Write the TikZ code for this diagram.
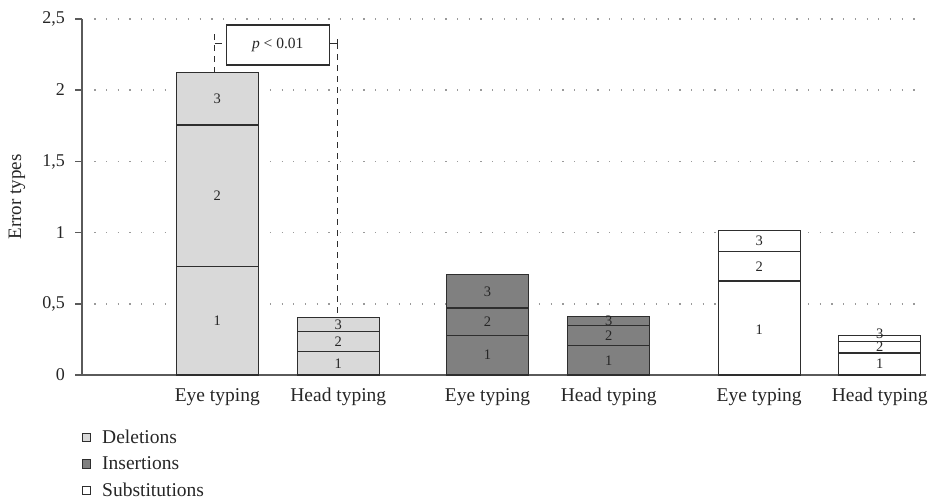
\documentclass[tikz,border=0pt]{standalone}
\usepackage{fontspec}
\setmainfont{Liberation Serif}
\usepackage{tikz}
\definecolor{delc}{HTML}{D9D9D9}
\definecolor{insc}{HTML}{808080}
\definecolor{edgec}{HTML}{2E2E2E}
\definecolor{axisc}{HTML}{5A5A5A}
\definecolor{gridc}{HTML}{9A9A9A}
\definecolor{txtc}{HTML}{262626}
\newcommand\mkseg[7]{%
  \draw[barseg, fill=#5] ({#2-41},#3) rectangle ({#2+41},#4);
  \node[num] (#1) at (#2,#7) {#6};}
\begin{document}
\begin{tikzpicture}[x=1pt,y=-1pt,
  barseg/.style={draw=edgec, line width=1.2pt},
  num/.style={font=\fontsize{14.5}{14.5}\selectfont, inner sep=0pt, text=txtc},
  ticklab/.style={anchor=east, font=\fontsize{18}{18}\selectfont, inner sep=0pt, text=txtc},
  catlab/.style={anchor=base, font=\fontsize{19.5}{20}\selectfont, inner sep=0pt, text=txtc},
  leglab/.style={anchor=base west, font=\fontsize{19.5}{20}\selectfont, inner sep=0pt, text=txtc},
  legsq/.style={draw=edgec, line width=1pt, minimum size=8.3pt, inner sep=0pt},
  gridline/.style={gridc, line width=1.2pt, dash pattern=on 1.2pt off 10.5pt},
  dline/.style={edgec, line width=1pt, dash pattern=on 6pt off 5pt},
  sline/.style={edgec, line width=1pt},
  axisline/.style={axisc, line width=1.5pt}]
\useasboundingbox (0,0) rectangle (933,500);
% grid
\foreach \yy in {19,90,161.7,232.7,304}
  \draw[gridline] (94.3,\yy) -- (916,\yy);
% axes
\draw[axisline] (82,19) -- (82,375) -- (926,375);
\foreach \yy/\lab in {19/{2,5},90/2,161.7/{1,5},232.7/1,304/{0,5},375/0}{
  \draw[axisline] (75,\yy) -- (82,\yy);
  \node[ticklab] at (65,\yy) {\lab};}
\node[rotate=90, font=\fontsize{19}{19}\selectfont, text=txtc] (ylab) at (17,197) {Error types};
% bars: Deletions
\mkseg{d1a}{217.3}{375}{266.7}{delc}{1}{321}
\mkseg{d1b}{217.3}{266.7}{125}{delc}{2}{196}
\mkseg{d1c}{217.3}{125}{72.7}{delc}{3}{99}
\mkseg{d2a}{338.3}{375}{351.7}{delc}{1}{363.3}
\mkseg{d2b}{338.3}{351.7}{331.7}{delc}{2}{342}
\mkseg{d2c}{338.3}{331.7}{317.3}{delc}{3}{325}
% Insertions
\mkseg{i1a}{487.5}{375}{335.3}{insc}{1}{355}
\mkseg{i1b}{487.5}{335.3}{308}{insc}{2}{321.7}
\mkseg{i1c}{487.5}{308}{274.3}{insc}{3}{291.5}
\mkseg{i2a}{608.7}{375}{345.7}{insc}{1}{360.5}
\mkseg{i2b}{608.7}{345.7}{325.7}{insc}{2}{335.7}
\mkseg{i2c}{608.7}{325.7}{316.3}{insc}{3}{320.5}
% Substitutions
\mkseg{s1a}{759.2}{375}{281}{white}{1}{330}
\mkseg{s1b}{759.2}{281}{251.7}{white}{2}{267}
\mkseg{s1c}{759.2}{251.7}{230.7}{white}{3}{241}
\mkseg{s2a}{879.7}{375}{353}{white}{1}{364}
\mkseg{s2b}{879.7}{353}{341.3}{white}{2}{347}
\mkseg{s2c}{879.7}{341.3}{335.3}{white}{3}{334}
% category labels
\node[catlab] (c1) at (217.3,401) {Eye typing};
\node[catlab] (c2) at (338.3,401) {Head typing};
\node[catlab] (c3) at (487.5,401) {Eye typing};
\node[catlab] (c4) at (608.7,401) {Head typing};
\node[catlab] (c5) at (759.2,401) {Eye typing};
\node[catlab] (c6) at (879.7,401) {Head typing};
% significance
\node[draw=edgec, line width=1.2pt, fill=white, minimum width=103pt, minimum height=40pt,
      inner sep=0pt, font=\fontsize{15.5}{15.5}\selectfont, text=txtc] (pbox) at (277.8,45) {\textit{p} < 0.01};
\coordinate (b1top) at (214.5,72.7);
\coordinate (lt) at (214.5,34.3);
\coordinate (b2top) at (337.3,317.3);
\coordinate (rt) at (337.3,43.3);
\draw[dline] (b1top) -- (lt);
\draw[sline] (lt |- rt) -- ++(7.2,0);
\draw[sline] (pbox.east |- rt) -- (rt);
\draw[sline] ([yshift=-4pt]rt) -- ([yshift=4pt]rt);
\draw[dline] (rt) -- (b2top);
% legend
\node[legsq, fill=delc] (lsq1) at (86.8,437.5) {};
\node[legsq, fill=insc] (lsq2) at (86.8,464) {};
\node[legsq, fill=white] (lsq3) at (86.8,490.5) {};
\node[leglab] (ll1) at (102,443) {Deletions};
\node[leglab] (ll2) at (102,469.5) {Insertions};
\node[leglab] (ll3) at (102,496) {Substitutions};
\end{tikzpicture}
\end{document}
